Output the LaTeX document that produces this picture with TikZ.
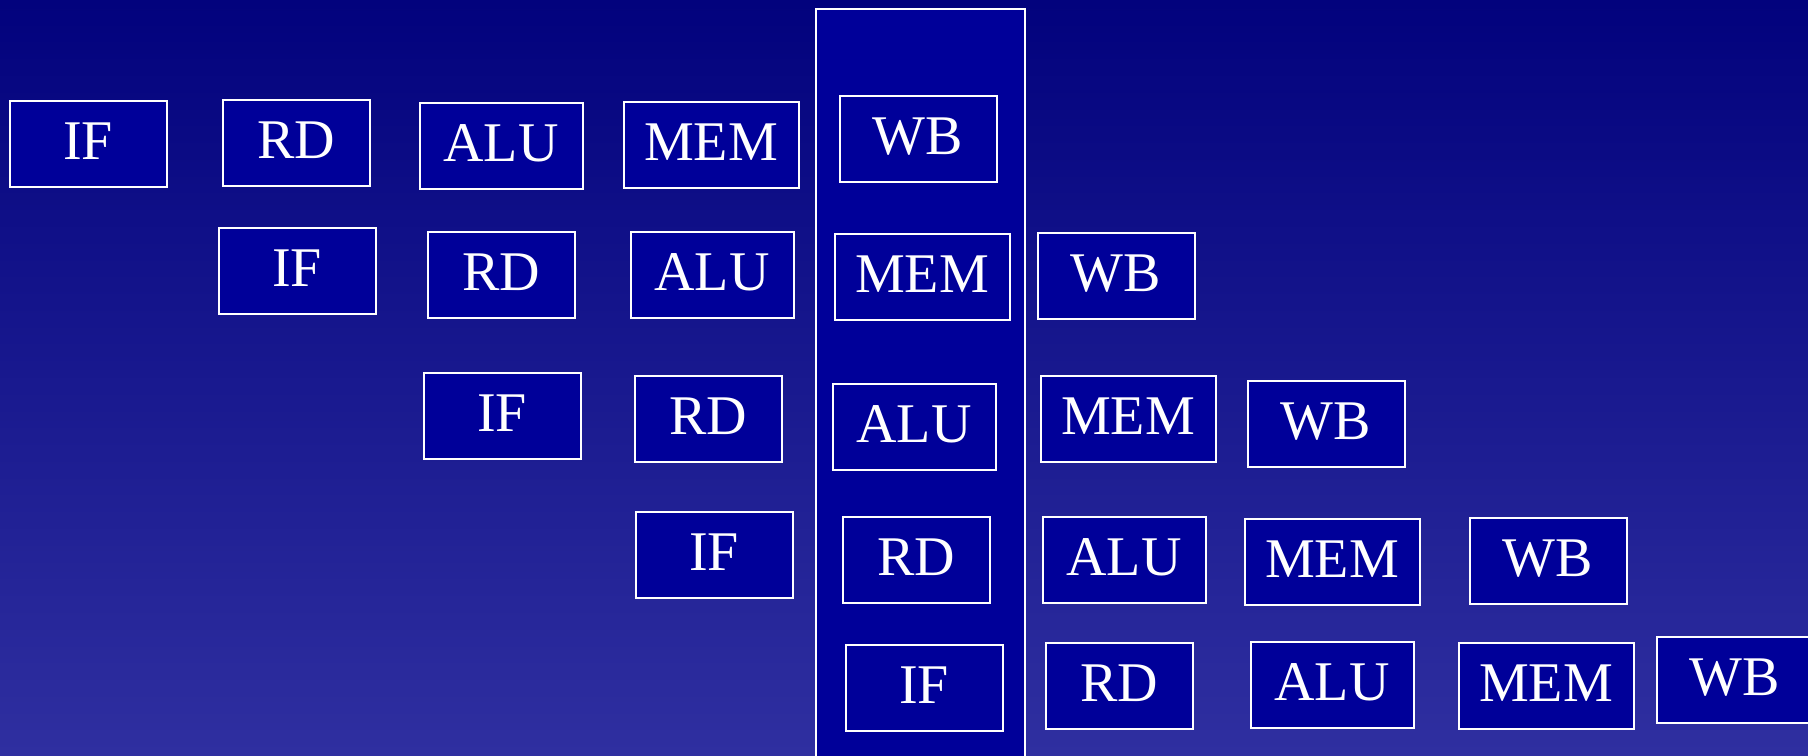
\documentclass[tikz,border=0pt]{standalone}
\usepackage{fontspec}
\setmainfont{Liberation Serif}
\usepackage{xcolor}
\usepackage{tikz}
\definecolor{PipeTop}{HTML}{02027D}
\definecolor{PipeBottom}{HTML}{2F2FA0}
\definecolor{PipeBox}{HTML}{000099}
\tikzset{
  stagebox/.style={draw=white,fill=PipeBox,line width=1pt,text=white,font=\fontsize{28}{30}\selectfont,minimum width=#1,minimum height=43pt,inner sep=0pt,text height=19pt,text depth=3.5pt},
  colbox/.style={draw=white,fill=PipeBox,line width=1pt,minimum width=104.5pt,minimum height=400pt,inner sep=0pt}
}

\begin{document}
\begin{tikzpicture}[x=0.5pt,y=-0.5pt]
\useasboundingbox (0,0) rectangle (1808,755);
\clip (0,0) rectangle (1808,755);
\fill[top color=PipeTop,bottom color=PipeBottom] (0,0) rectangle (1808,755);
% the column of one clock cycle
\node[colbox,anchor=north] (cycle) at (920.5,8) {};
% instruction 1
\node[stagebox=78.5pt] (if1) at (88,144) {IF};
\node[stagebox=73.5pt] (rd1) at (296,143) {RD};
\node[stagebox=81.5pt] (alu1) at (501,146) {ALU};
\node[stagebox=87.5pt] (mem1) at (711,145) {MEM};
\node[stagebox=78.5pt] (wb1) at (918,139) {WB};
% instruction 2
\node[stagebox=78.5pt] (if2) at (297,271) {IF};
\node[stagebox=73.5pt] (rd2) at (501,275) {RD};
\node[stagebox=81.5pt] (alu2) at (712,275) {ALU};
\node[stagebox=87.5pt] (mem2) at (922,277) {MEM};
\node[stagebox=78.5pt] (wb2) at (1116,276) {WB};
% instruction 3
\node[stagebox=78.5pt] (if3) at (502,416) {IF};
\node[stagebox=73.5pt] (rd3) at (708,419) {RD};
\node[stagebox=81.5pt] (alu3) at (914,427) {ALU};
\node[stagebox=87.5pt] (mem3) at (1128,419) {MEM};
\node[stagebox=78.5pt] (wb3) at (1326,424) {WB};
% instruction 4
\node[stagebox=78.5pt] (if4) at (714,555) {IF};
\node[stagebox=73.5pt] (rd4) at (916,560) {RD};
\node[stagebox=81.5pt] (alu4) at (1124,560) {ALU};
\node[stagebox=87.5pt] (mem4) at (1332,562) {MEM};
\node[stagebox=78.5pt] (wb4) at (1548,561) {WB};
% instruction 5
\node[stagebox=78.5pt] (if5) at (924,688) {IF};
\node[stagebox=73.5pt] (rd5) at (1119,686) {RD};
\node[stagebox=81.5pt] (alu5) at (1332,685) {ALU};
\node[stagebox=87.5pt] (mem5) at (1546,686) {MEM};
\node[stagebox=78.5pt] (wb5) at (1735,680) {WB};
\end{tikzpicture}
\end{document}
